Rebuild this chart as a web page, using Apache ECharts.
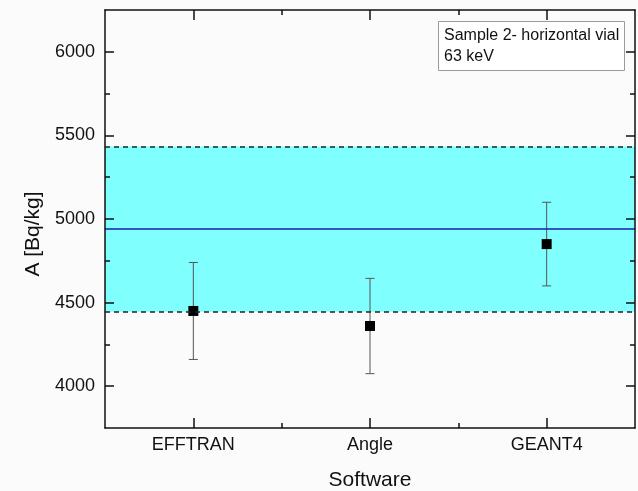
<!DOCTYPE html>
<html>
<head>
<meta charset="utf-8">
<script src="https://cdn.jsdelivr.net/npm/echarts@6/dist/echarts.min.js"></script>
<style>
  html, body { margin: 0; padding: 0; background: #fbfbfb; }
  #chart { width: 638px; height: 491px; }
</style>
</head>
<body>
<div id="chart"></div>
<script>
// Software packages compared
const categories = ['EFFTRAN', 'Angle', 'GEANT4'];
// Activity results and their uncertainties (Bq/kg)
const activity = [4450, 4360, 4850];
const uncertainty = [290, 285, 250];
// Reference activity and its ±10 % band (Bq/kg)
const refMean = 4940;
const refLower = 4446;
const refUpper = 5434;
// Axis ticks
const yMajorTicks = [4000, 4500, 5000, 5500, 6000];
const yMinorTicks = [4250, 4750, 5250, 5750];
const xMajorTicks = [1, 2, 3];
const xMinorTicks = [1.5, 2.5];

const FONT = 'Liberation Sans, Arial, sans-serif';
const black = '#111';

const pointData = categories.map((c, i) => [i + 1, activity[i]]);
const errData = categories.map((c, i) => [i + 1, activity[i] - uncertainty[i], activity[i] + uncertainty[i]]);

function xAxisDef(pos, ticks, len, opts) {
  return Object.assign({
    type: 'value', position: pos, min: 0.5, max: 3.5, z: 10,
    axisLine: { show: true, onZero: false, lineStyle: { color: black, width: 1.5 } },
    axisTick: { show: true, inside: true, length: len, customValues: ticks, lineStyle: { color: black, width: 1.5 } },
    axisLabel: { show: false },
    splitLine: { show: false }
  }, opts || {});
}
function yAxisDef(pos, ticks, len, opts) {
  return Object.assign({
    type: 'value', position: pos, min: 3750, max: 6250, z: 10,
    axisLine: { show: true, onZero: false, lineStyle: { color: black, width: 1.5 } },
    axisTick: { show: true, inside: true, length: len, customValues: ticks, lineStyle: { color: black, width: 1.5 } },
    axisLabel: { show: false },
    splitLine: { show: false }
  }, opts || {});
}

const chart = echarts.init(document.getElementById('chart'), null, { renderer: 'canvas' });
chart.setOption({
  backgroundColor: '#fbfbfb',
  animation: false,
  textStyle: { fontFamily: FONT },
  grid: { left: 105, right: 3, top: 10, bottom: 63, containLabel: false, outerBoundsMode: 'none' },
  title: {
    text: 'Sample 2- horizontal vial\n63 keV',
    left: 438, top: 21,
    padding: [4, 6, 4, 6],
    borderColor: '#9a9a9a', borderWidth: 1,
    backgroundColor: '#ffffff',
    textStyle: { fontFamily: FONT, fontSize: 16, fontWeight: 'normal', color: black, lineHeight: 21 }
  },
  xAxis: [
    xAxisDef('bottom', xMajorTicks, 10, {
      axisLabel: {
        show: true, customValues: xMajorTicks, margin: 8,
        fontFamily: FONT, fontSize: 18, color: black,
        formatter: v => categories[Math.round(v) - 1] || ''
      },
      name: 'Software', nameLocation: 'middle', nameGap: 42,
      nameTextStyle: { fontFamily: FONT, fontSize: 21, color: black }
    }),
    xAxisDef('bottom', xMinorTicks, 5, { axisLine: { show: false } }),
    xAxisDef('top', xMajorTicks, 10),
    xAxisDef('top', xMinorTicks, 5, { axisLine: { show: false } })
  ],
  yAxis: [
    yAxisDef('left', yMajorTicks, 9, {
      axisLabel: {
        show: true, customValues: yMajorTicks, margin: 10,
        fontFamily: FONT, fontSize: 18, color: black,
        formatter: v => String(v)
      },
      name: 'A [Bq/kg]', nameLocation: 'middle', nameGap: 55, nameRotate: 90,
      nameTextStyle: { fontFamily: FONT, fontSize: 21, color: black, padding: [0, 30, 0, 0] }
    }),
    yAxisDef('left', yMinorTicks, 5, { axisLine: { show: false } }),
    yAxisDef('right', yMajorTicks, 9),
    yAxisDef('right', yMinorTicks, 5, { axisLine: { show: false } })
  ],
  series: [
    {
      // reference band and mean line
      type: 'line', data: [], xAxisIndex: 0, yAxisIndex: 0, z: 1,
      markArea: {
        silent: true,
        itemStyle: { color: '#80ffff' },
        data: [[{ yAxis: refLower }, { yAxis: refUpper }]]
      },
      markLine: {
        silent: true, symbol: 'none', label: { show: false },
        data: [
          { yAxis: refLower, lineStyle: { color: '#222', width: 1.5, type: [5, 4] } },
          { yAxis: refUpper, lineStyle: { color: '#222', width: 1.5, type: [5, 4] } },
          { yAxis: refMean, lineStyle: { color: '#1c1cb0', width: 1.5, type: 'solid' } }
        ]
      }
    },
    {
      // error bars
      type: 'custom', xAxisIndex: 0, yAxisIndex: 0, z: 3,
      data: errData,
      renderItem: function (params, api) {
        const x = api.value(0);
        const lo = api.coord([x, api.value(1)]);
        const hi = api.coord([x, api.value(2)]);
        const cap = 4.5;
        const style = { stroke: '#555', lineWidth: 1 };
        return {
          type: 'group',
          children: [
            { type: 'line', shape: { x1: lo[0], y1: lo[1], x2: hi[0], y2: hi[1] }, style: style },
            { type: 'line', shape: { x1: lo[0] - cap, y1: lo[1], x2: lo[0] + cap, y2: lo[1] }, style: style },
            { type: 'line', shape: { x1: hi[0] - cap, y1: hi[1], x2: hi[0] + cap, y2: hi[1] }, style: style }
          ]
        };
      }
    },
    {
      type: 'scatter', xAxisIndex: 0, yAxisIndex: 0, z: 4,
      symbol: 'rect', symbolSize: 10,
      itemStyle: { color: '#000', opacity: 1 },
      data: pointData
    }
  ]
});
</script>
</body>
</html>
